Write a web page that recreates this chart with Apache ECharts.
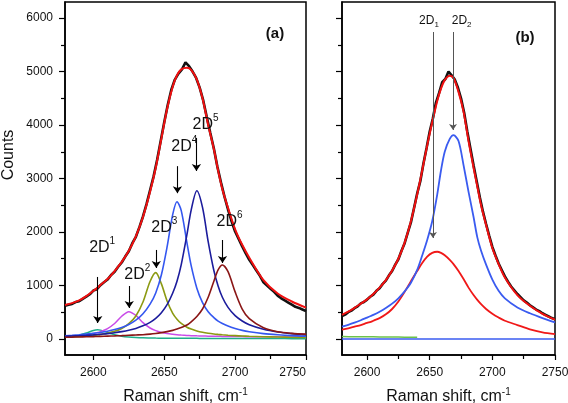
<!DOCTYPE html>
<html><head><meta charset="utf-8">
<script src="https://cdn.jsdelivr.net/npm/echarts@6/dist/echarts.min.js"></script>
<style>html,body{margin:0;padding:0;background:#fff}#c{width:568px;height:403px}</style>
</head><body><div id="c"></div>
<script>
// ---------- data ----------
const xFit = [2580,2585,2590,2595,2600,2603,2605,2610,2615,2620,2625,2630,2635,2640,2644,2648,2652,2656,2659,2662,2666,2669,2673,2677,2681,2685,2688,2691,2695,2700,2705,2710,2720,2730,2740,2750];
const xRaw = [2580,2582.5,2585,2587.5,2590,2592.5,2595,2597.5,2600,2602.5,2605,2607.5,2610,2612.5,2615,2617.5,2620,2622.5,2625,2627.5,2630,2632.5,2635,2637.5,2640,2642.5,2645,2647.5,2650,2652.5,2655,2657.5,2660,2662.5,2665,2667.5,2670,2672.5,2675,2677.5,2680,2682.5,2685,2687.5,2690,2692.5,2695,2697.5,2700,2702.5,2705,2707.5,2710,2712.5,2715,2717.5,2720,2722.5,2725,2727.5,2730,2732.5,2735,2737.5,2740,2742.5,2745,2747.5,2750];

// panel (a)
const rawA = [620,640,655,690,705,750,790,835,905,930,1005,1060,1110,1195,1255,1350,1430,1540,1640,1790,1910,2090,2290,2520,2780,3040,3350,3700,4050,4380,4660,4850,4960,5040,5170,5100,5000,4880,4700,4460,4150,3850,3560,3220,2930,2660,2420,2200,2010,1870,1730,1600,1480,1380,1280,1180,1060,1000,940,880,810,760,720,680,640,600,580,550,520];
const fitA = [635,670,720,800,900,960,1010,1120,1270,1440,1650,1920,2280,2750,3200,3750,4300,4720,4930,5040,5070,5030,4850,4500,4000,3550,3150,2800,2450,2050,1760,1520,1100,850,700,585];
const a2D1 = [32,46,71,111,158,170,165,121,80,52,36,27,21,18,16,15,14,13,13,12,12,11,11,10,10,10,9,9,9,8,8,8,7,7,6,6];
const a2D2 = [40,48,60,77,100,120,137,195,290,425,510,440,305,205,155,122,100,86,78,72,66,62,58,55,52,50,49,48,47,45,44,43,41,39,38,37];
const a2D3 = [35,40,47,56,68,77,84,108,142,195,285,430,690,1075,1240,1030,710,480,370,290,220,185,150,125,107,93,85,78,70,62,55,50,42,36,32,28];
const a2D4 = [60,68,78,90,105,115,122,145,175,215,270,350,470,650,860,1200,1720,2330,2565,2400,1800,1370,950,680,510,400,335,290,240,195,160,135,100,78,62,52];
const a2D5 = [50,55,61,68,77,83,88,100,116,137,163,197,245,310,385,490,640,860,1080,1390,1950,2410,2772,2460,1820,1280,990,780,590,435,335,265,180,130,100,80];
const a2D6 = [32,34,37,40,44,47,49,53,57,62,68,74,80,90,102,118,137,160,185,215,260,320,420,560,780,1080,1290,1383,1260,880,560,380,210,135,105,90];

// panel (b)
const rawB = [430,455,500,530,575,610,665,690,735,790,830,900,950,1030,1090,1190,1270,1390,1490,1650,1790,1990,2180,2450,2720,2950,3280,3570,3880,4120,4420,4600,4800,4860,5000,4930,4850,4700,4500,4230,3880,3560,3250,2950,2650,2380,2150,1930,1720,1560,1410,1290,1170,1070,980,910,840,780,720,680,630,590,550,520,480,450,420,390,370];
const fitB = [450,510,580,660,740,800,840,960,1100,1280,1500,1800,2200,2700,3150,3620,4050,4450,4680,4840,4920,4880,4620,4250,3700,3200,2850,2500,2130,1700,1400,1150,820,620,470,360];
const b2D1 = [175,200,230,260,300,320,340,390,460,560,700,880,1080,1270,1420,1540,1610,1630,1610,1565,1480,1400,1270,1120,960,820,730,650,560,470,400,340,260,180,125,90];
const b2D2 = [230,265,305,350,400,430,450,510,580,660,760,890,1050,1290,1560,1850,2200,2700,3150,3500,3740,3810,3700,3250,2750,2280,1900,1650,1390,1110,900,760,590,480,390,310];
const xGreenB = [2580,2590,2600,2610,2620,2630,2640];
const greenB = [45,42,40,38,36,34,32];
const xZeroB = [2580,2750];
const zeroB = [0,0];

// annotations (data units)
const annA = ['1','2','3','4','5','6'];
const annAX = [2606.2,2631,2650,2664.2,2679.1,2696.1];
const annAY = [1701,1196,2075,3589,4000,2186];
const arrAX = [2603.1,2625.3,2644.4,2659.3,2672.7,2691.1];
const arrAY1 = [1159,990,1664,3231,3759,1850];
const arrAY2 = [299,579,1327,2726,3141,1420];
const annB = ['1','2'];
const annBX = [2649.4,2675.5];
const annBY = [5945,5945];
const arrBX = [2652.6,2668.6];
const arrBY1 = [5739,5739];
const arrBY2 = [1887,3908];

// axes ticks
const xTicksMajor = [2600,2650,2700,2750];
const xTicksMinor = [2625,2675,2725];
const yTicksMajor = [0,1000,2000,3000,4000,5000,6000];
const yTicksMinor = [500,1500,2500,3500,4500,5500];
const X_MIN = 2580, X_MAX = 2750, Y_MIN = -300, Y_MAX = 6300;

// ---------- chart ----------
const F = '"Liberation Sans", Arial, Helvetica, sans-serif';
const TXT = '#111';
const chart = echarts.init(document.getElementById('c'), null, {renderer:'canvas'});
const pairs = (xs, ys) => xs.map((x, i) => [x, ys[i]]);
const plain = v => String(v);

function mkX(gi, major) {
  return {
    type:'value', gridIndex:gi, min:X_MIN, max:X_MAX, position:'bottom',
    axisLine:{show:major, onZero:false, lineStyle:{color:'#000', width:1.5}},
    axisTick:{show:true, inside:false, length:major?5:4, customValues:major?xTicksMajor:xTicksMinor, lineStyle:{color:'#000', width:1.2}},
    axisLabel:{show:major, customValues:xTicksMajor, formatter:plain, fontSize:12, color:TXT, fontFamily:F, margin:12, alignMaxLabel: gi===0 ? 'right' : 'center'},
    splitLine:{show:false},
    name: major ? '{t|Raman shift, cm}{s|-1}' : '',
    nameLocation:'middle', nameGap:32,
    nameTextStyle:{rich:{t:{fontSize:16, fontFamily:F, color:TXT, lineHeight:20}, s:{fontSize:10, fontFamily:F, color:TXT, verticalAlign:'top'}}}
  };
}
function mkY(gi, major) {
  return {
    type:'value', gridIndex:gi, min:Y_MIN, max:Y_MAX, position:'left',
    axisLine:{show:major, onZero:false, lineStyle:{color:'#000', width:1.5}},
    axisTick:{show:true, inside:false, length:major?6:4, customValues:major?yTicksMajor:yTicksMinor, lineStyle:{color:'#000', width:1.2}},
    axisLabel:{show:major && gi===0, customValues:yTicksMajor, formatter:plain, fontSize:12, color:TXT, fontFamily:F, margin:12},
    splitLine:{show:false}
  };
}
function line(gi, xs, ys, color, width, z, smooth) {
  return {type:'line', xAxisIndex:gi*2, yAxisIndex:gi*2, data:pairs(xs, ys), showSymbol:false, symbol:'none',
    smooth:smooth, lineStyle:{color:color, width:width}, itemStyle:{color:color}, z:z, silent:true, animation:false};
}

const sA = line(0, xRaw, rawA, '#111', 2.6, 2, false);
sA.markLine = {silent:true, animation:false, symbol:['none','arrow'], symbolSize:7,
  lineStyle:{color:'#000', width:1.1, type:'solid'}, label:{show:false}, emphasis:{disabled:true},
  data: arrAX.map((x, i) => [{coord:[x, arrAY1[i]]}, {coord:[x, arrAY2[i]]}])};
sA.markPoint = {silent:true, animation:false, symbol:'circle', symbolSize:2, itemStyle:{color:'rgba(0,0,0,0)'},
  label:{show:true, position:'inside', formatter:p => '{m|2D}{s|' + p.name + '}',
    rich:{m:{fontSize:16, fontFamily:F, color:TXT, lineHeight:24}, s:{fontSize:10, fontFamily:F, color:TXT, verticalAlign:'top'}}},
  data: annAX.map((x, i) => ({name:annA[i], coord:[x, annAY[i]]}))};

const sB = line(1, xRaw, rawB, '#111', 2.6, 2, false);
sB.markLine = {silent:true, animation:false, symbol:['none','arrow'], symbolSize:6,
  lineStyle:{color:'#555', width:1, type:'solid'}, label:{show:false}, emphasis:{disabled:true},
  data: arrBX.map((x, i) => [{coord:[x, arrBY1[i]]}, {coord:[x, arrBY2[i]]}])};
sB.markPoint = {silent:true, animation:false, symbol:'circle', symbolSize:2, itemStyle:{color:'rgba(0,0,0,0)'},
  label:{show:true, position:'inside', formatter:p => '{m|2D}{s|' + p.name + '}',
    rich:{m:{fontSize:12, fontFamily:F, color:TXT, lineHeight:16}, s:{fontSize:8, fontFamily:F, color:TXT, verticalAlign:'bottom'}}},
  data: annBX.map((x, i) => ({name:annB[i], coord:[x, annBY[i]]}))};

const SM = 0.3;
const option = {
  animation:false,
  backgroundColor:'#fff',
  grid:[
    {left:65, top:2, width:241, height:353, containLabel:false, outerBoundsMode:'none', show:true, borderColor:'#000', borderWidth:1.5, backgroundColor:'transparent'},
    {left:342, top:2, width:213, height:353, containLabel:false, outerBoundsMode:'none', show:true, borderColor:'#000', borderWidth:1.5, backgroundColor:'transparent'}
  ],
  xAxis:[mkX(0,true), mkX(0,false), mkX(1,true), mkX(1,false)],
  yAxis:[mkY(0,true), mkY(0,false), mkY(1,true), mkY(1,false)],
  series:[
    sA,
    line(0, xFit, a2D1, '#1fae8a', 1.5, 3, SM),
    line(0, xFit, a2D2, '#c94be8', 1.5, 3, SM),
    line(0, xFit, a2D3, '#8c9a12', 1.6, 3, SM),
    line(0, xFit, a2D4, '#3457f0', 1.6, 3, SM),
    line(0, xFit, a2D5, '#1c1c9c', 1.6, 3, SM),
    line(0, xFit, a2D6, '#8a1616', 1.6, 3, SM),
    line(0, xFit, fitA, '#f01010', 2, 4, SM),
    sB,
    line(1, xZeroB, zeroB, '#3a5bf0', 1.5, 3, false),
    line(1, xGreenB, greenB, '#6cc24a', 1.5, 3, SM),
    line(1, xFit, b2D1, '#f01818', 1.8, 3, SM),
    line(1, xFit, b2D2, '#3a5bf0', 1.8, 3, SM),
    line(1, xFit, fitB, '#f01010', 2, 4, SM)
  ],
  graphic:[
    {type:'text', x:9, y:155, rotation:Math.PI/2, style:{text:'Counts', fontSize:16, fontFamily:F, fill:TXT, align:'center', verticalAlign:'middle'}},
    {type:'text', x:275, y:34, style:{text:'(a)', fontSize:15, fontWeight:'bold', fontFamily:F, fill:TXT, align:'center', verticalAlign:'middle'}},
    {type:'text', x:525, y:38, style:{text:'(b)', fontSize:15, fontWeight:'bold', fontFamily:F, fill:TXT, align:'center', verticalAlign:'middle'}}
  ]
};
chart.setOption(option);
</script></body></html>
